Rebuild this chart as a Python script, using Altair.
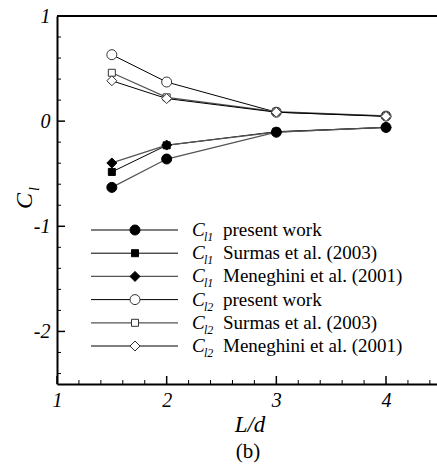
import altair as alt
import pandas as pd

# ---------------- data ----------------
ld = [1.5, 2, 3, 4]
cl1_present = [-0.63, -0.36, -0.105, -0.06]
cl1_surmas = [-0.483, -0.23, -0.10, -0.06]
cl1_meneghini = [-0.398, -0.228, -0.105, -0.06]
cl2_present = [0.632, 0.372, 0.085, 0.048]
cl2_surmas = [0.46, 0.226, 0.09, 0.05]
cl2_meneghini = [0.384, 0.215, 0.085, 0.045]

series_values = [cl1_present, cl1_surmas, cl1_meneghini,
                 cl2_present, cl2_surmas, cl2_meneghini]
series_subs = ["l1", "l1", "l1", "l2", "l2", "l2"]
series_labels = ["present work", "Surmas et al. (2003)", "Meneghini et al. (2001)",
                 "present work", "Surmas et al. (2003)", "Meneghini et al. (2001)"]

x_major = [1, 2, 3, 4]
x_minor = [1.2, 1.4, 1.6, 1.8, 2.2, 2.4, 2.6, 2.8, 3.2, 3.4, 3.6, 3.8, 4.2, 4.4]
y_major = [1, 0, -1, -2]
y_minor = [0.8, 0.6, 0.4, 0.2, -0.2, -0.4, -0.6, -0.8, -1.2, -1.4, -1.6, -1.8,
           -2.2, -2.4]

# ---------------- styles ----------------
shapes = ["circle", "square", "diamond", "circle", "square", "diamond"]
sizes = [100, 49, 100, 100, 49, 100]
filled = [True, True, True, False, False, False]
line_colors = ["#555555", "#000000", "#555555", "#000000", "#555555", "#000000"]
line_widths = [1.3, 1.0, 1.3, 1.0, 1.3, 1.0]

W, H = 380, 368
SERIF = "Liberation Serif, Times New Roman, Times, serif"

xs = alt.Scale(domain=[1, 4.465], nice=False, zero=False)
ys = alt.Scale(domain=[-2.5, 1], nice=False, zero=False)
lab_expr = "datum.value < 0 ? '-' + format(-datum.value, 'd') : format(datum.value, 'd')"
xaxis = alt.Axis(values=x_major, title=None, ticks=False, grid=False, domainWidth=2,
                 domainColor="black", labelFont=SERIF, labelFontStyle="italic",
                 labelFontSize=20, labelPadding=6, labelColor="black",
                 labelFlush=False, labelExpr=lab_expr)
yaxis = alt.Axis(values=y_major, title=None, ticks=False, grid=False, domainWidth=2,
                 domainColor="black", labelFont=SERIF, labelFontStyle="italic",
                 labelFontSize=20, labelPadding=7, labelColor="black",
                 labelExpr=lab_expr)


def X(f):
    return alt.X(f, scale=xs, axis=xaxis)


def Y(f):
    return alt.Y(f, scale=ys, axis=yaxis)


layers = []

# ticks (inward)
layers.append(alt.Chart(pd.DataFrame({"v": y_major})).mark_rule(color="black", strokeWidth=1.5)
              .encode(y=Y("v:Q"), x=alt.value(0), x2=alt.value(8)))
layers.append(alt.Chart(pd.DataFrame({"v": y_minor})).mark_rule(color="black", strokeWidth=1)
              .encode(y=Y("v:Q"), x=alt.value(0), x2=alt.value(4)))
layers.append(alt.Chart(pd.DataFrame({"v": x_major})).mark_rule(color="black", strokeWidth=1.5)
              .encode(x=X("v:Q"), y=alt.value(H), y2=alt.value(H - 8)))
layers.append(alt.Chart(pd.DataFrame({"v": x_minor})).mark_rule(color="black", strokeWidth=1)
              .encode(x=X("v:Q"), y=alt.value(H), y2=alt.value(H - 4)))
# top frame line
layers.append(alt.Chart(pd.DataFrame({"v": [0]})).mark_rule(color="black", strokeWidth=2)
              .encode(x=alt.value(0), x2=alt.value(W), y=alt.value(0)))

# series
for i, vals in enumerate(series_values):
    df = pd.DataFrame({"ld": ld, "cl": vals})
    layers.append(alt.Chart(df).mark_line(color=line_colors[i], strokeWidth=line_widths[i])
                  .encode(x=X("ld:Q"), y=Y("cl:Q")))
for i, vals in enumerate(series_values):
    df = pd.DataFrame({"ld": ld, "cl": vals})
    layers.append(alt.Chart(df).mark_point(
        shape=shapes[i], size=sizes[i], filled=True,
        fill="black" if filled[i] else "white", stroke="black" if filled[i] else "#333333",
        strokeWidth=1, opacity=1).encode(x=X("ld:Q"), y=Y("cl:Q")))

# legend
LEG_TOP, LEG_STEP = 214, 23.2
for i in range(6):
    yy = LEG_TOP + LEG_STEP * i
    one = pd.DataFrame({"t": [series_labels[i]], "s": [series_subs[i]], "c": ["C"]})
    layers.append(alt.Chart(one).mark_rule(color=line_colors[i], strokeWidth=line_widths[i])
                  .encode(x=alt.value(34), x2=alt.value(121), y=alt.value(yy)))
    layers.append(alt.Chart(one).mark_point(
        shape=shapes[i], size=sizes[i], filled=True,
        fill="black" if filled[i] else "white", stroke="black" if filled[i] else "#333333",
        strokeWidth=1, opacity=1).encode(x=alt.value(78), y=alt.value(yy)))
    layers.append(alt.Chart(one).mark_text(font=SERIF, fontStyle="italic", fontSize=19,
                                           align="left", baseline="middle", color="black")
                  .encode(x=alt.value(135), y=alt.value(yy), text="c:N"))
    layers.append(alt.Chart(one).mark_text(font=SERIF, fontStyle="italic", fontSize=12,
                                           align="left", baseline="middle", color="black")
                  .encode(x=alt.value(147), y=alt.value(yy + 7), text="s:N"))
    layers.append(alt.Chart(one).mark_text(font=SERIF, fontSize=19,
                                           align="left", baseline="middle", color="black")
                  .encode(x=alt.value(166), y=alt.value(yy), text="t:N"))

# axis titles and caption
ttl = pd.DataFrame({"c": ["C"], "l": ["l"], "x": ["L/d"], "b": ["(b)"]})
layers.append(alt.Chart(ttl).mark_text(font=SERIF, fontStyle="italic", fontSize=24, angle=270,
                                       align="center", baseline="middle", color="black")
              .encode(x=alt.value(-32), y=alt.value(185), text="c:N"))
layers.append(alt.Chart(ttl).mark_text(font=SERIF, fontStyle="italic", fontSize=14, angle=270,
                                       align="center", baseline="middle", color="black")
              .encode(x=alt.value(-22), y=alt.value(173), text="l:N"))
layers.append(alt.Chart(ttl).mark_text(font=SERIF, fontStyle="italic", fontSize=23,
                                       align="center", baseline="middle", color="black")
              .encode(x=alt.value(193), y=alt.value(409), text="x:N"))
layers.append(alt.Chart(ttl).mark_text(font=SERIF, fontSize=21,
                                       align="center", baseline="middle", color="black")
              .encode(x=alt.value(191), y=alt.value(436), text="b:N"))

chart = alt.layer(*layers).properties(
    width=W, height=H, autosize="none",
    padding={"left": 57, "top": 16, "right": 0, "bottom": 84},
    background="white",
).configure_view(stroke=None)

chart.save("out.html", embed_options={"renderer": "svg", "actions": False})
